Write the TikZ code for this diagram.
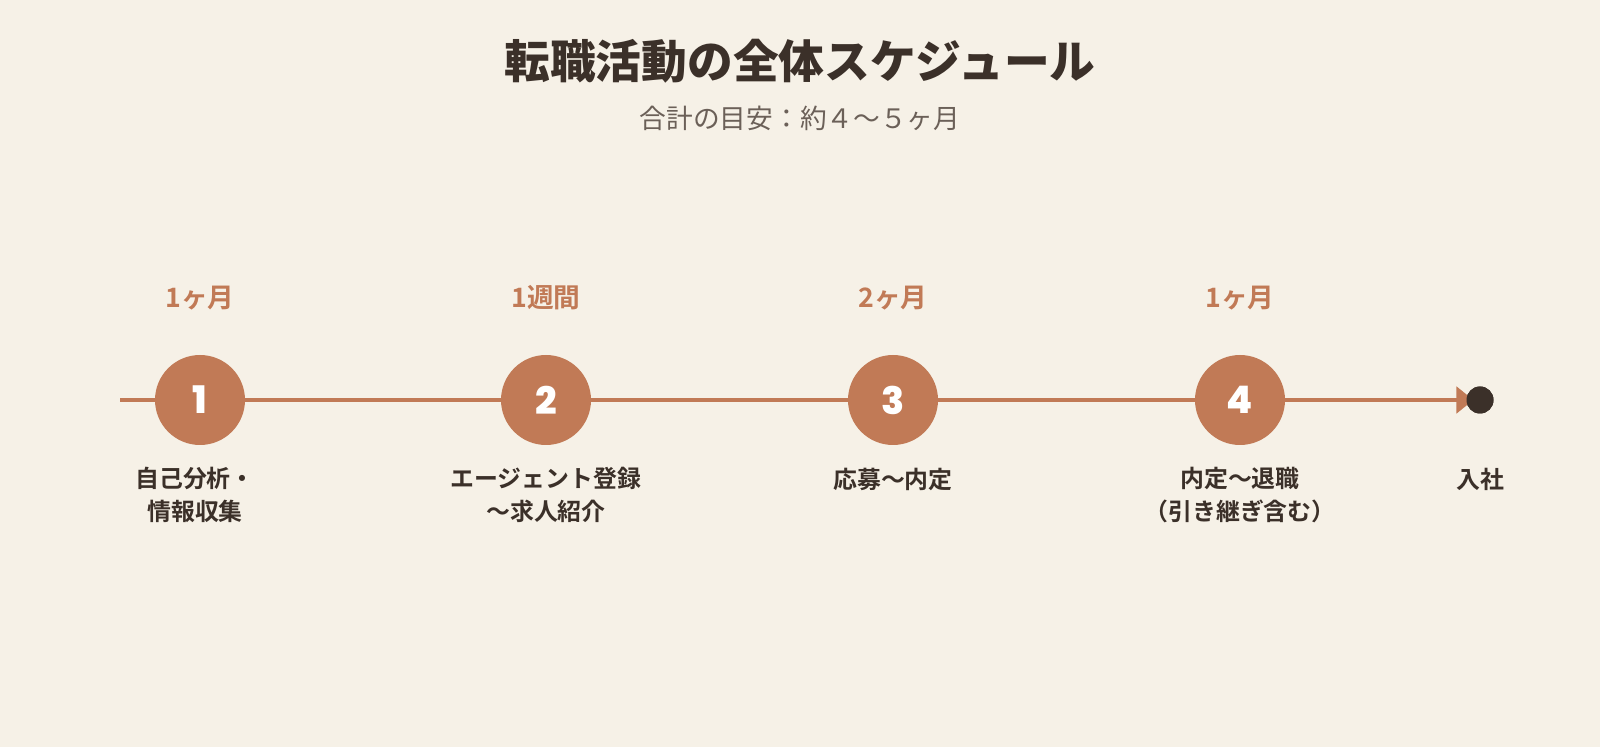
\documentclass[tikz,border=0pt]{standalone}
\usepackage{fontspec}
\setmainfont{Noto Sans CJK JP}[BoldFont={Noto Sans CJK JP Bold}]
\newfontfamily\heavyfont{Noto Sans CJK JP Black}
\newfontfamily\numfont{Poppins}[BoldFont={Poppins ExtraBold}]
\usetikzlibrary{arrows.meta}
\usetikzlibrary{positioning}
\tikzset{>=latex}
\definecolor{paper}{RGB}{246,241,231}
\definecolor{clay}{RGB}{193,122,86}
\definecolor{ink}{RGB}{59,48,41}
\definecolor{inkgray}{RGB}{107,96,88}
\tikzstyle{stepdot}=[circle,fill=clay,minimum size=90*0.025cm,inner sep=0pt,text=white,font=\numfont\bfseries\fontsize{27}{27}\selectfont]
\tikzstyle{timeline}=[draw=clay,line width=2.2pt]
\tikzstyle{span}=[text=clay,font=\bfseries\fontsize{19}{22}\selectfont]
\tikzstyle{task}=[text=ink,align=center,font=\bfseries\fontsize{17}{23}\selectfont]

\begin{document}
\begin{tikzpicture}[x=0.025cm,y=-0.025cm]
  \fill[paper] (0,0) rectangle (1600,747);
  \useasboundingbox (0,0) rectangle (1600,747);

  \node[text=ink,font=\heavyfont\fontsize{32.5}{38}\selectfont] (title) at (800,61) {転職活動の全体スケジュール};
  \node[text=inkgray,font=\fontsize{19}{23}\selectfont] (total) at (800,118) {合計の目安：約４〜５ヶ月};

  \coordinate (start) at (120,400);
  \node[stepdot] (s1) at (200,400) {1};
  \node[stepdot] (s2) at (546,400) {2};
  \node[stepdot] (s3) at (893,400) {3};
  \node[stepdot] (s4) at (1240,400) {4};
  \node[circle,fill=ink,minimum size=27*0.025cm,inner sep=0pt] (goal) at (1480,400) {};

  \draw[timeline] (start) -- (s1);
  \draw[timeline] (s1) -- (s2);
  \draw[timeline] (s2) -- (s3);
  \draw[timeline] (s3) -- (s4);
  \draw[timeline,-{Triangle[length=12pt,width=19pt]},shorten >=-5pt] (s4) -- (goal);
  \node[circle,fill=ink,minimum size=27*0.025cm,inner sep=0pt] at (goal) {};

  \node[span] (t1) at (200,298) {1ヶ月};
  \node[span] (t2) at (546,298) {1週間};
  \node[span] (t3) at (893,298) {2ヶ月};
  \node[span] (t4) at (1240,298) {1ヶ月};

  \node[task] (l1) at (195,495) {自己分析・\\情報収集};
  \node[task] (l2) at (546,495) {エージェント登録\\〜求人紹介};
  \node[task] (l3) at (893,479) {応募〜内定};
  \node[task] (l4) at (1240,495) {内定〜退職\\（引き継ぎ含む）};
  \node[task] (l5) at (1480,479) {入社};
\end{tikzpicture}
\end{document}
